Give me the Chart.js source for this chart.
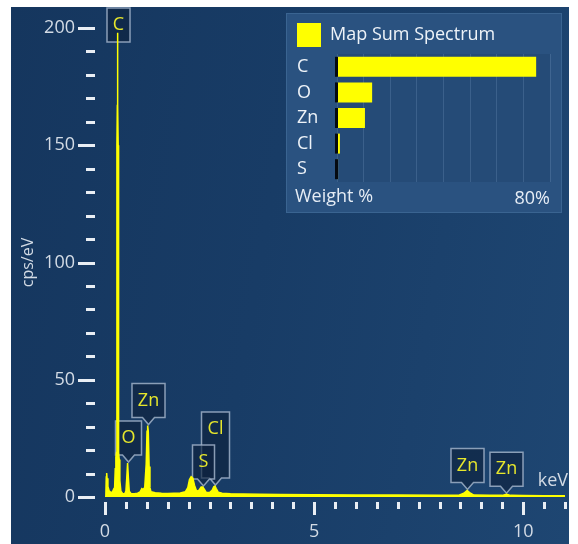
<!DOCTYPE html>
<html>
<head>
<meta charset="utf-8">
<title>Map Sum Spectrum</title>
<script src="https://cdn.jsdelivr.net/npm/chart.js@4.4.1/dist/chart.umd.min.js"></script>
<style>
  html, body { margin: 0; padding: 0; background: #ffffff; }
  #wrap { position: relative; width: 578px; height: 544px; overflow: hidden; }
  #panel {
    position: absolute; left: 11px; top: 7px; width: 558px; height: 537px;
    background: linear-gradient(100deg, #15365e 0%, #183c66 45%, #1e4672 100%);
  }
  #spec { position: absolute; left: 0; top: 0; }
  #insetBox {
    position: absolute; left: 286px; top: 13px; width: 276px; height: 200px;
    box-sizing: border-box; background: #2a5280; border: 1px solid #3a6491;
  }
  #inset { position: absolute; left: 286px; top: 13px; }
</style>
</head>
<body>
<div id="wrap">
  <div id="panel"></div>
  <canvas id="spec" width="578" height="544"></canvas>
  <div id="insetBox"></div>
  <canvas id="inset" width="276" height="200"></canvas>
</div>
<script>
// ---- spectrum (keV vs cps/eV) ----
const energyKeV = [
  0.00, 0.02, 0.03, 0.04, 0.05, 0.07, 0.10, 0.14, 0.18, 0.21,
  0.23, 0.245, 0.26, 0.275, 0.285, 0.295, 0.30, 0.305, 0.315, 0.325,
  0.34, 0.355, 0.38, 0.42, 0.47, 0.50, 0.52, 0.54, 0.56, 0.58,
  0.62, 0.70, 0.78, 0.84, 0.88, 0.91, 0.95, 0.985, 1.005, 1.02,
  1.035, 1.055, 1.075, 1.10, 1.20, 1.35, 1.50, 1.65, 1.80, 1.92,
  1.98, 2.02, 2.06, 2.10, 2.14, 2.18, 2.22, 2.26, 2.30, 2.34,
  2.37, 2.42, 2.50, 2.56, 2.60, 2.63, 2.66, 2.71, 2.80, 3.00,
  3.30, 3.70, 4.20, 5.00, 6.00, 7.00, 8.00, 8.45, 8.58, 8.66,
  8.74, 8.82, 9.20, 9.50, 9.60, 9.70, 10.00, 10.50, 11.00
];
const countsCps = [
  0.0, 0.4, 8.5, 10.2, 8.0, 4.5, 2.6, 1.9, 2.2, 3.5,
  4.0, 12.0, 17.0, 19.0, 150.0, 167.0, 198.0, 167.0, 150.0, 19.0,
  16.0, 7.0, 2.5, 1.5, 1.4, 2.5, 8.0, 14.5, 8.0, 2.5,
  1.5, 1.4, 1.6, 2.2, 3.6, 3.2, 4.0, 14.0, 28.0, 30.5,
  28.0, 13.0, 4.0, 2.2, 1.8, 1.6, 1.5, 1.6, 1.7, 2.2,
  4.0, 7.5, 8.7, 8.0, 5.0, 3.0, 2.4, 3.2, 4.3, 4.3,
  3.4, 2.0, 1.9, 2.8, 4.4, 4.7, 3.6, 2.0, 1.6, 1.4,
  1.3, 1.2, 1.1, 1.0, 0.9, 0.8, 0.75, 0.7, 1.6, 2.8,
  1.6, 0.8, 0.7, 0.7, 1.2, 0.7, 0.6, 0.55, 0.5
];

// ---- identified lines ----
const peakElements = ['C', 'O', 'Zn', 'Cl', 'S', 'Zn', 'Zn'];
const peakEnergies = [0.30, 0.54, 1.03, 2.63, 2.34, 8.66, 9.60];

// ---- axis labels ----
const xTickLabels = [0, 5, 10];
const yTickLabels = [0, 50, 100, 150, 200];

// ---- quantification ----
const weightElements = ['C', 'O', 'Zn', 'Cl', 'S'];
const weightPercent = [74.8, 13.2, 10.5, 1.1, 0.4];

const FONT = "'Open Sans', 'Noto Sans', sans-serif";
const AXIS_TEXT = '#d3dbe5';
const TICK_MARK = '#e9eef4';

// extra box height for callouts stacked behind a neighbour
const calloutStretch = { Cl: 32 };

const tickMarks = {
  id: 'tickMarks',
  afterDraw(chart) {
    const { ctx, chartArea, scales: { x, y } } = chart;
    ctx.save();
    ctx.strokeStyle = TICK_MARK;
    ctx.lineWidth = 3;
    x.ticks.forEach(t => {
      const px = Math.round(x.getPixelForValue(t.value)) + 0.5;
      const major = xTickLabels.includes(t.value);
      ctx.beginPath();
      ctx.moveTo(px, chartArea.bottom + 5);
      ctx.lineTo(px, chartArea.bottom + (major ? 18 : 12));
      ctx.stroke();
    });
    y.ticks.forEach(t => {
      const py = Math.round(y.getPixelForValue(t.value)) + 0.5;
      const major = yTickLabels.includes(t.value);
      ctx.beginPath();
      ctx.moveTo(chartArea.left - (major ? 27 : 19), py);
      ctx.lineTo(chartArea.left - 10, py);
      ctx.stroke();
    });
    // unit of the energy axis
    ctx.fillStyle = AXIS_TEXT;
    ctx.font = `18px ${FONT}`;
    ctx.textAlign = 'right';
    ctx.textBaseline = 'middle';
    ctx.fillText('keV', chartArea.right + 3, chartArea.bottom - 16);
    ctx.restore();
  }
};

const callouts = {
  id: 'callouts',
  beforeDatasetsDraw(chart) {
    const { ctx, scales: { x, y } } = chart;
    ctx.save();
    ctx.font = `18px ${FONT}`;
    peakElements.forEach((el, i) => {
      const e = peakEnergies[i];
      let v = 0;
      energyKeV.forEach((k, j) => {
        if (Math.abs(k - e) <= 0.035) v = Math.max(v, countsCps[j]);
      });
      const cx = Math.round(x.getPixelForValue(e)) + 0.5;
      const tipY = y.getPixelForValue(v) - 1;
      const w = Math.round(ctx.measureText(el).width + 12);
      const h = 34;
      let bottom = tipY - 7;
      let top = bottom - h - (calloutStretch[el] || 0);
      let pointer = true;
      if (top < 8) { top = 8; bottom = top + h; pointer = false; }
      const l = cx - w / 2, r = cx + w / 2;
      ctx.beginPath();
      ctx.moveTo(l, top);
      ctx.lineTo(r, top);
      ctx.lineTo(r, bottom);
      if (pointer) {
        ctx.lineTo(cx + 6, bottom);
        ctx.lineTo(cx, bottom + 7);
        ctx.lineTo(cx - 6, bottom);
      }
      ctx.lineTo(l, bottom);
      ctx.closePath();
      ctx.fillStyle = 'rgba(14, 34, 62, 0.65)';
      ctx.fill();
      ctx.strokeStyle = 'rgba(160, 178, 200, 0.85)';
      ctx.lineWidth = 1.5;
      ctx.stroke();
      ctx.fillStyle = '#e6e62c';
      ctx.textAlign = 'center';
      ctx.textBaseline = 'middle';
      ctx.fillText(el, cx, top + h / 2);
    });
    ctx.restore();
  }
};

new Chart(document.getElementById('spec'), {
  type: 'line',
  data: {
    datasets: [{
      label: 'Map Sum Spectrum',
      data: energyKeV.map((k, i) => ({ x: k, y: countsCps[i] })),
      borderColor: '#ffff00',
      backgroundColor: '#ffff00',
      borderWidth: 1.5,
      fill: 'origin',
      pointRadius: 0,
      tension: 0
    }]
  },
  options: {
    responsive: false,
    animation: false,
    events: [],
    layout: { padding: { left: 11, top: 28, right: 13, bottom: 0 } },
    plugins: { legend: { display: false }, tooltip: { enabled: false } },
    scales: {
      x: {
        type: 'linear',
        min: 0, max: 11,
        grid: { display: false, drawTicks: false },
        border: { display: false },
        ticks: {
          stepSize: 0.5, autoSkip: false, maxRotation: 0,
          padding: 24, color: AXIS_TEXT, font: { family: FONT, size: 18 },
          callback: v => xTickLabels.includes(v) ? String(v) : ''
        },
        afterFit: s => { s.height = 47; s.paddingLeft = 0; s.paddingRight = 0; }
      },
      y: {
        min: 0, max: 200,
        grid: { display: false, drawTicks: false },
        border: { display: false },
        ticks: {
          stepSize: 10, autoSkip: false,
          padding: 30, color: AXIS_TEXT, font: { family: FONT, size: 18 },
          callback: v => yTickLabels.includes(v) ? String(v) : ''
        },
        title: {
          display: true, text: 'cps/eV', color: AXIS_TEXT,
          font: { family: FONT, size: 16 }, padding: { top: 8, bottom: 0 }
        },
        afterFit: s => { s.width = 94; s.paddingTop = 0; s.paddingBottom = 0; }
      }
    }
  },
  plugins: [callouts, tickMarks]
});

// ---- weight % panel ----
const insetDecor = {
  id: 'insetDecor',
  beforeLayout(chart) {
    const legend = chart.legend;
    if (legend && !legend._compact) {
      const fit = legend.fit;
      legend.fit = function () { fit.call(this); this.height -= 3; };
      legend._compact = true;
    }
  },
  beforeDraw(chart) {
    const { ctx, chartArea: a } = chart;
    ctx.save();
    ctx.fillStyle = 'rgba(8, 28, 58, 0.12)';
    ctx.fillRect(a.left, a.top, a.right - a.left, a.bottom - a.top);
    ctx.restore();
  },
  afterDatasetsDraw(chart) {
    const { ctx, scales: { x } } = chart;
    const x0 = Math.round(x.getPixelForValue(0));
    ctx.save();
    ctx.fillStyle = '#050a10';
    chart.getDatasetMeta(0).data.forEach(bar => {
      ctx.fillRect(x0 - 2, bar.y - bar.height / 2, 3, bar.height);
    });
    ctx.restore();
  },
  afterDraw(chart) {
    const { ctx, chartArea: a } = chart;
    ctx.save();
    ctx.fillStyle = '#e6edf5';
    ctx.font = `18px ${FONT}`;
    ctx.textAlign = 'left';
    ctx.textBaseline = 'middle';
    ctx.fillText('Weight %', 9, a.bottom + 15);
    ctx.restore();
  }
};

new Chart(document.getElementById('inset'), {
  type: 'bar',
  data: {
    labels: weightElements,
    datasets: [{
      label: 'Map Sum Spectrum',
      data: weightPercent,
      backgroundColor: '#ffff00',
      borderWidth: 0,
      categoryPercentage: 1,
      barPercentage: 0.78
    }]
  },
  options: {
    indexAxis: 'y',
    responsive: false,
    animation: false,
    events: [],
    layout: { padding: { left: 11, top: 10, right: 12, bottom: 0 } },
    plugins: {
      tooltip: { enabled: false },
      legend: {
        display: true, position: 'top', align: 'start',
        labels: {
          boxWidth: 24, boxHeight: 24, padding: 0,
          color: '#eef3f8', font: { family: FONT, size: 18 }
        }
      }
    },
    scales: {
      x: {
        min: 0, max: 80,
        grid: { color: 'rgba(120, 150, 190, 0.28)', lineWidth: 1, drawTicks: false },
        border: { display: false },
        ticks: {
          stepSize: 10, autoSkip: false, align: 'end', maxRotation: 0,
          padding: 6, color: '#e6edf5', font: { family: FONT, size: 18 },
          callback: v => v === 80 ? '80%' : ''
        },
        afterFit: s => { s.height = 31; s.paddingLeft = 0; s.paddingRight = 0; }
      },
      y: {
        grid: { display: false, drawTicks: false },
        border: { display: false },
        ticks: {
          crossAlign: 'far', padding: 0,
          color: '#eef3f8', font: { family: FONT, size: 18 }
        },
        afterFit: s => { s.width = 40; s.paddingTop = 0; s.paddingBottom = 0; }
      }
    }
  },
  plugins: [insetDecor]
});
</script>
</body>
</html>
